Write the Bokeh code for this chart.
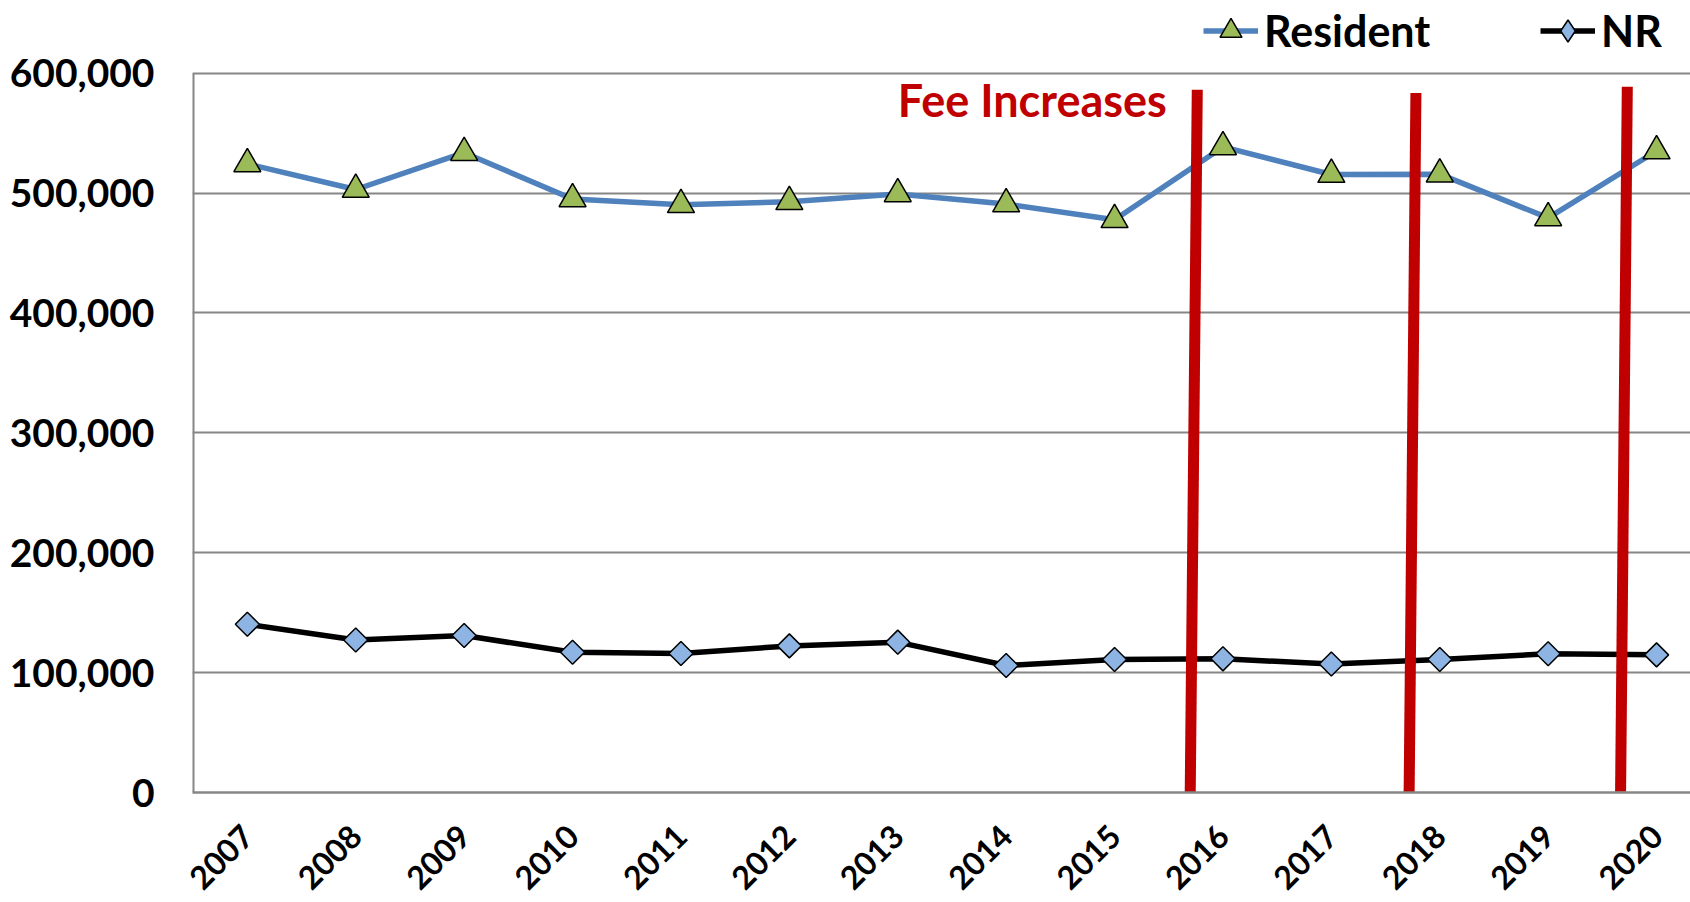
import math
from bokeh.plotting import figure
from bokeh.models import Legend, LegendItem, Label, NumeralTickFormatter, FixedTicker, Range1d
from bokeh.embed import file_html
from bokeh.resources import INLINE

# ---------------- data ----------------
years = [2007, 2008, 2009, 2010, 2011, 2012, 2013, 2014, 2015, 2016, 2017, 2018, 2019, 2020]
year_labels = [str(y) for y in years]
resident = [524300, 503000, 533700, 495100, 490200, 492800, 499300,
            490900, 477700, 538500, 515500, 515800, 479300, 535100]
nonresident = [140300, 127200, 130900, 117000, 115900, 122300, 125400,
               105900, 111000, 111500, 107200, 111000, 115700, 114800]
y_ticks = [0, 100000, 200000, 300000, 400000, 500000, 600000]

# hand-drawn "fee increase" markers (slightly slanted bars)
fee_x_bottom = [2015.698, 2017.717, 2019.668]
fee_x_top = [2015.763, 2017.780, 2019.730]
fee_y_bottom = [0, -3300, 600]
fee_y_top = [586200, 583500, 588700]
fee_label = "Fee Increases"
fee_label_x = 2013.0
fee_label_y = 577900

FONT = "Lato"
GRAY = "#868686"
RES_FILL = "#9BBB59"
NR_FILL = "#8DB4E2"

X_START, X_END = 2006.494, 2020.313
Y_END = 660640  # frame reaches the canvas top so the legend above 600,000 is visible

p = figure(width=1690, height=902,
           x_range=Range1d(X_START, X_END), y_range=Range1d(0, Y_END),
           output_backend="svg", toolbar_location=None,
           min_border_left=192, min_border_right=0, min_border_top=0, min_border_bottom=110)
p.outline_line_color = None
p.background_fill_color = "white"
p.border_fill_color = "white"

# axes
p.yaxis.ticker = FixedTicker(ticks=y_ticks)
p.yaxis.formatter = NumeralTickFormatter(format="0,0")
p.yaxis.major_label_text_font = FONT
p.yaxis.major_label_text_font_style = "bold"
p.yaxis.major_label_text_font_size = "39px"
p.yaxis.major_label_text_color = "black"
p.yaxis.major_label_standoff = 38
p.yaxis.major_tick_out = 0
p.yaxis.major_tick_in = 0
p.yaxis.minor_tick_out = 0
p.yaxis.minor_tick_in = 0
p.yaxis.axis_line_color = None

p.xaxis.ticker = FixedTicker(ticks=years)
p.xaxis.major_label_overrides = {y: s for y, s in zip(years, year_labels)}
p.xaxis.major_label_orientation = math.pi / 4
p.xaxis.major_label_text_font = FONT
p.xaxis.major_label_text_font_style = "bold"
p.xaxis.major_label_text_font_size = "32px"
p.xaxis.major_label_text_color = "black"
p.xaxis.major_label_standoff = 38
p.xaxis.major_tick_out = 0
p.xaxis.major_tick_in = 0
p.xaxis.minor_tick_out = 0
p.xaxis.minor_tick_in = 0
p.xaxis.axis_line_color = GRAY
p.xaxis.axis_line_width = 2.5

p.xgrid.visible = False
p.ygrid.ticker = FixedTicker(ticks=y_ticks)
p.ygrid.grid_line_color = GRAY
p.ygrid.grid_line_width = 2

# left axis line, only up to the top tick (half of it is clipped by the frame edge)
p.segment(x0=[X_START], y0=[y_ticks[0]], x1=[X_START], y1=[y_ticks[-1]],
          line_color=GRAY, line_width=4)

# series
res_line = p.line(years, resident, line_color="#4F81BD", line_width=5.5, line_join="round")
res_pts = p.scatter(years, resident, marker="triangle", size=27,
                    fill_color=RES_FILL, line_color="black", line_width=1.5)
nr_line = p.line(years, nonresident, line_color="black", line_width=5.5, line_join="round")
# legend key for NR: a diamond (legend markers are never rotated); zero size in the plot itself
nr_key = p.scatter(years, nonresident, marker="diamond", size=0, fill_color=NR_FILL,
                   line_color="black", line_width=1.5)
nr_pts = p.scatter(years, nonresident, marker="square", angle=math.pi / 4, size=17,
                   fill_color=NR_FILL, line_color="black", line_width=1.5)

# fee increase bars
p.segment(x0=fee_x_bottom, y0=fee_y_bottom, x1=fee_x_top, y1=fee_y_top,
          line_color="#C00000", line_width=11, line_cap="butt")

p.add_layout(Label(x=fee_label_x, y=fee_label_y, text=fee_label,
                   text_font=FONT, text_font_style="bold", text_font_size="45px",
                   text_color="#C00000", text_baseline="alphabetic", text_align="left"))

# legends
common = dict(orientation="horizontal", label_standoff=6, padding=0, margin=0,
              border_line_color=None, background_fill_alpha=0,
              label_text_font=FONT, label_text_font_style="bold",
              label_text_font_size="43px", label_text_color="black", spacing=0,
              glyph_width=55, glyph_height=55, label_height=55)
leg1 = Legend(items=[LegendItem(label="Resident", renderers=[res_line, res_pts])],
              location=(1011, 734.5), **common)
leg2 = Legend(items=[LegendItem(label="NR", renderers=[nr_line, nr_key])],
              location=(1348, 734.5), **common)
p.add_layout(leg1)
p.add_layout(leg2)

open("out.html", "w").write(file_html(p, INLINE))
